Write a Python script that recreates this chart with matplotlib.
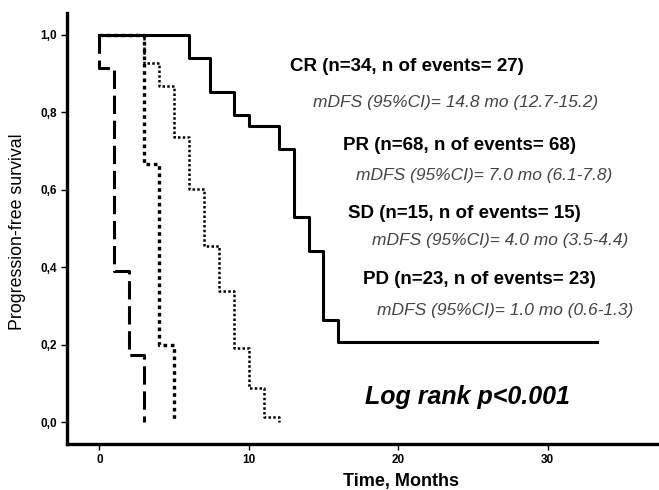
import matplotlib
matplotlib.use("Agg")
import matplotlib.pyplot as plt

plt.rcParams['font.family'] = ['Liberation Sans', 'DejaVu Sans']

# Kaplan-Meier step data (time in months, survival fraction)
cr_t = [0, 6, 7.4, 9, 10, 12, 13, 14, 15, 16, 33.3]
cr_s = [1, 32/34, 29/34, 27/34, 26/34, 24/34, 18/34, 15/34, 9/34, 7/34, 7/34]

pr_t = [0, 3, 4, 5, 6, 7, 8, 9, 10, 11, 12]
pr_s = [1, 63/68, 59/68, 50/68, 41/68, 31/68, 23/68, 13/68, 6/68, 1/68, 0]

sd_t = [0, 3, 4, 5]
sd_s = [1, 10/15, 3/15, 0]

pd_t = [0, 0, 1, 2, 3]
pd_s = [1, 21/23, 9/23, 4/23, 0]

yticks = [0.0, 0.2, 0.4, 0.6, 0.8, 1.0]
ytick_labels = ['0,0', '0,2', '0,4', '0,6', '0,8', '1,0']
xticks = [0, 10, 20, 30]
xtick_labels = ['0', '10', '20', '30']

group_titles = ['CR (n=34, n of events= 27)', 'PR (n=68, n of events= 68)',
                'SD (n=15, n of events= 15)', 'PD (n=23, n of events= 23)']
group_medians = ['mDFS (95%CI)= 14.8 mo (12.7-15.2)', 'mDFS (95%CI)= 7.0 mo (6.1-7.8)',
                 'mDFS (95%CI)= 4.0 mo (3.5-4.4)', 'mDFS (95%CI)= 1.0 mo (0.6-1.3)']

W, H = 659, 490
fig = plt.figure(figsize=(W/100, H/100), dpi=100)
ax = fig.add_axes([67/W, 1-444/H, 1-67/W + 0.01, (444-13)/H])

ax.step(cr_t, cr_s, where='post', color='black', lw=2.2, linestyle='-')
ax.step(pr_t, pr_s, where='post', color='black', lw=1.8, linestyle=(0, (1, 0.9)))
ax.step(sd_t, sd_s, where='post', color='black', lw=2.4, linestyle=(0, (1.1, 1.1)))
ax.step(pd_t, pd_s, where='post', color='black', lw=2.2, linestyle=(0, (6, 2.2)))

ax.set_xlim(-2.17, 37.9)
ax.set_ylim(-0.056, 1.056)
ax.set_yticks(yticks)
ax.set_yticklabels(ytick_labels, fontsize=8.5, fontweight='bold')
ax.set_xticks(xticks)
ax.set_xticklabels(xtick_labels, fontsize=8.5, fontweight='bold')
ax.tick_params(axis='both', direction='out', length=4, width=1, pad=3)

for s in ['top', 'right']:
    ax.spines[s].set_visible(False)
for s in ['left', 'bottom']:
    ax.spines[s].set_linewidth(2.4)

# Annotations (pixel positions -> figure fraction)
def ftext(px, py, s, **kw):
    fig.text(px/W, 1-py/H, s, va='center', ha='left', **kw)

title_pos = [(290, 66), (343, 145), (348, 213), (363, 280)]
med_pos = [(313, 103), (356, 175), (372, 240), (377, 310)]
for (px, py), s in zip(title_pos, group_titles):
    ftext(px, py, s, fontsize=13.5, fontweight='bold', color='black')
for (px, py), s in zip(med_pos, group_medians):
    ftext(px, py, s, fontsize=12.5, fontstyle='italic', color='#444444')

ftext(365, 397, 'Log rank p<0.001', fontsize=18, fontweight='bold', fontstyle='italic')

fig.text(401/W, 1-481/H, 'Time, Months', ha='center', va='center', fontsize=13, fontweight='bold')
fig.text(18/W, 1-232/H, 'Progression-free survival', ha='center', va='center',
         rotation=90, fontsize=12.8)

fig.savefig('out.png', dpi=100)
